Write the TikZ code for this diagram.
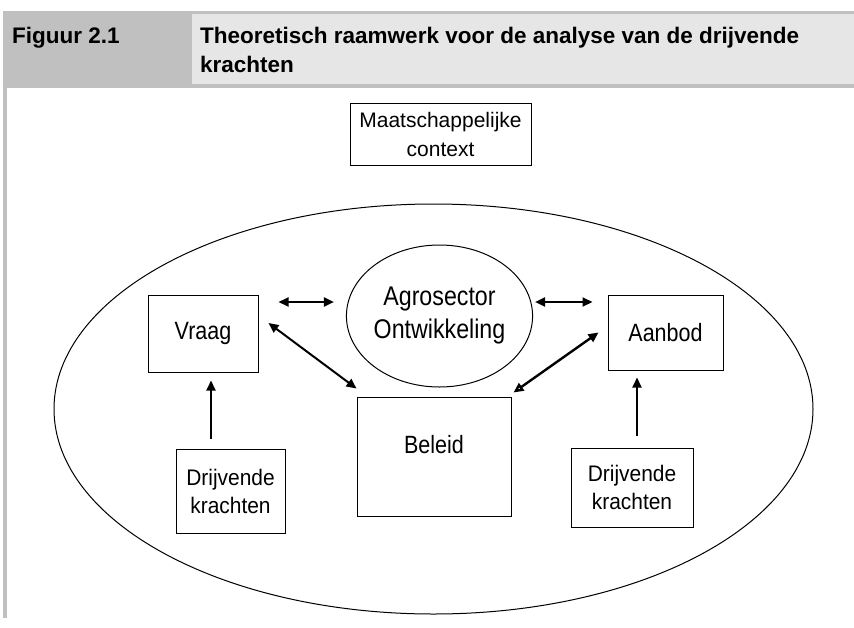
\documentclass[tikz,border=0pt]{standalone}
\usepackage{fontspec}
\setmainfont{Liberation Sans}
\newfontfamily\bodyfont[FakeStretch=0.93]{Liberation Sans}
\newfontfamily\narrowfont[FakeStretch=0.86]{Liberation Sans}
\usetikzlibrary{arrows.meta,shapes.geometric}

\definecolor{headdark}{RGB}{192,192,192}
\definecolor{headlight}{RGB}{230,230,230}

\tikzset{
    box/.style={draw, line width=1pt, inner sep=0pt, align=center,
        font=\narrowfont\fontsize{25}{30}\selectfont},
    headtext/.style={anchor=base west, inner sep=0pt, align=left,
        font=\bfseries\fontsize{22.5}{29}\selectfont},
    both/.style={line width=2pt, {Triangle[length=10pt,width=9pt]}-{Triangle[length=10pt,width=9pt]}},
    up/.style={line width=2pt, -{Triangle[length=10pt,width=9pt]}}
}

\begin{document}
\begin{tikzpicture}[x=1pt,y=-1pt]
    \useasboundingbox (0,0) rectangle (854,627);
    \fill[headdark] (3,11) rectangle (854,88);
    \fill[headlight] (192,14) rectangle (854,84);
    \fill[headdark] (3,88) rectangle (7,618);
    \node[headtext] (fig) at (12,43) {Figuur 2.1};
    \node[headtext] (title) at (200,72)
        {Theoretisch raamwerk voor de analyse van de drijvende\\krachten};

    \node[box, minimum width=181pt, minimum height=62pt,
        font=\fontsize{21}{29}\selectfont] (maat) at (440.5,134)
        {Maatschappelijke\\context};
    \node[draw, ellipse, line width=1pt, minimum width=759pt,
        minimum height=410pt] (sector) at (433.5,409) {};
    \node[box, ellipse, minimum width=179pt, minimum height=142pt,
        font=\narrowfont\fontsize{27}{33}\selectfont] (agro) at (439.5,316)
        {Agrosector\\Ontwikkeling};
    \node[box, minimum width=110pt, minimum height=77pt] (vraag) at (203,333.5) {Vraag};
    \node[box, minimum width=115pt, minimum height=75pt] (aanbod) at (665.5,332.5) {Aanbod};
    \node[box, minimum width=154pt, minimum height=119pt, text height=18pt,
        text depth=25pt] (beleid) at (434,456.5) {Beleid};
    \node[box, minimum width=109pt, minimum height=84pt,
        font=\bodyfont\fontsize{22.5}{28}\selectfont] (drijfl) at (230.5,491)
        {Drijvende\\krachten};
    \node[box, minimum width=122pt, minimum height=79pt,
        font=\bodyfont\fontsize{22.5}{28}\selectfont] (drijfr) at (632,487.5)
        {Drijvende\\krachten};

    \draw[both] ([shift={(20,-31.5)}]vraag.east) -- ([shift={(-12,-14)}]agro.west);
    \draw[both] ([shift={(2,-14)}]agro.east) -- ([shift={(-15,-30.5)}]aanbod.west);
    \draw[both] ([shift={(10,-10.5)}]vraag.east) -- ([shift={(0,-8)}]beleid.north west);
    \draw[line width=2.4pt, {Triangle[open,length=10pt,width=9pt]}-{Triangle[length=10pt,width=9pt]}]
        ([shift={(2,-4)}]beleid.north east) -- ([shift={(-9,0)}]aanbod.west);
    \draw[up] ([shift={(-19.5,-10)}]drijfl.north) -- ([shift={(8,8)}]vraag.south);
    \draw[up] ([shift={(5,-12)}]drijfr.north) -- ([shift={(-28.5,7)}]aanbod.south);
\end{tikzpicture}
\end{document}
